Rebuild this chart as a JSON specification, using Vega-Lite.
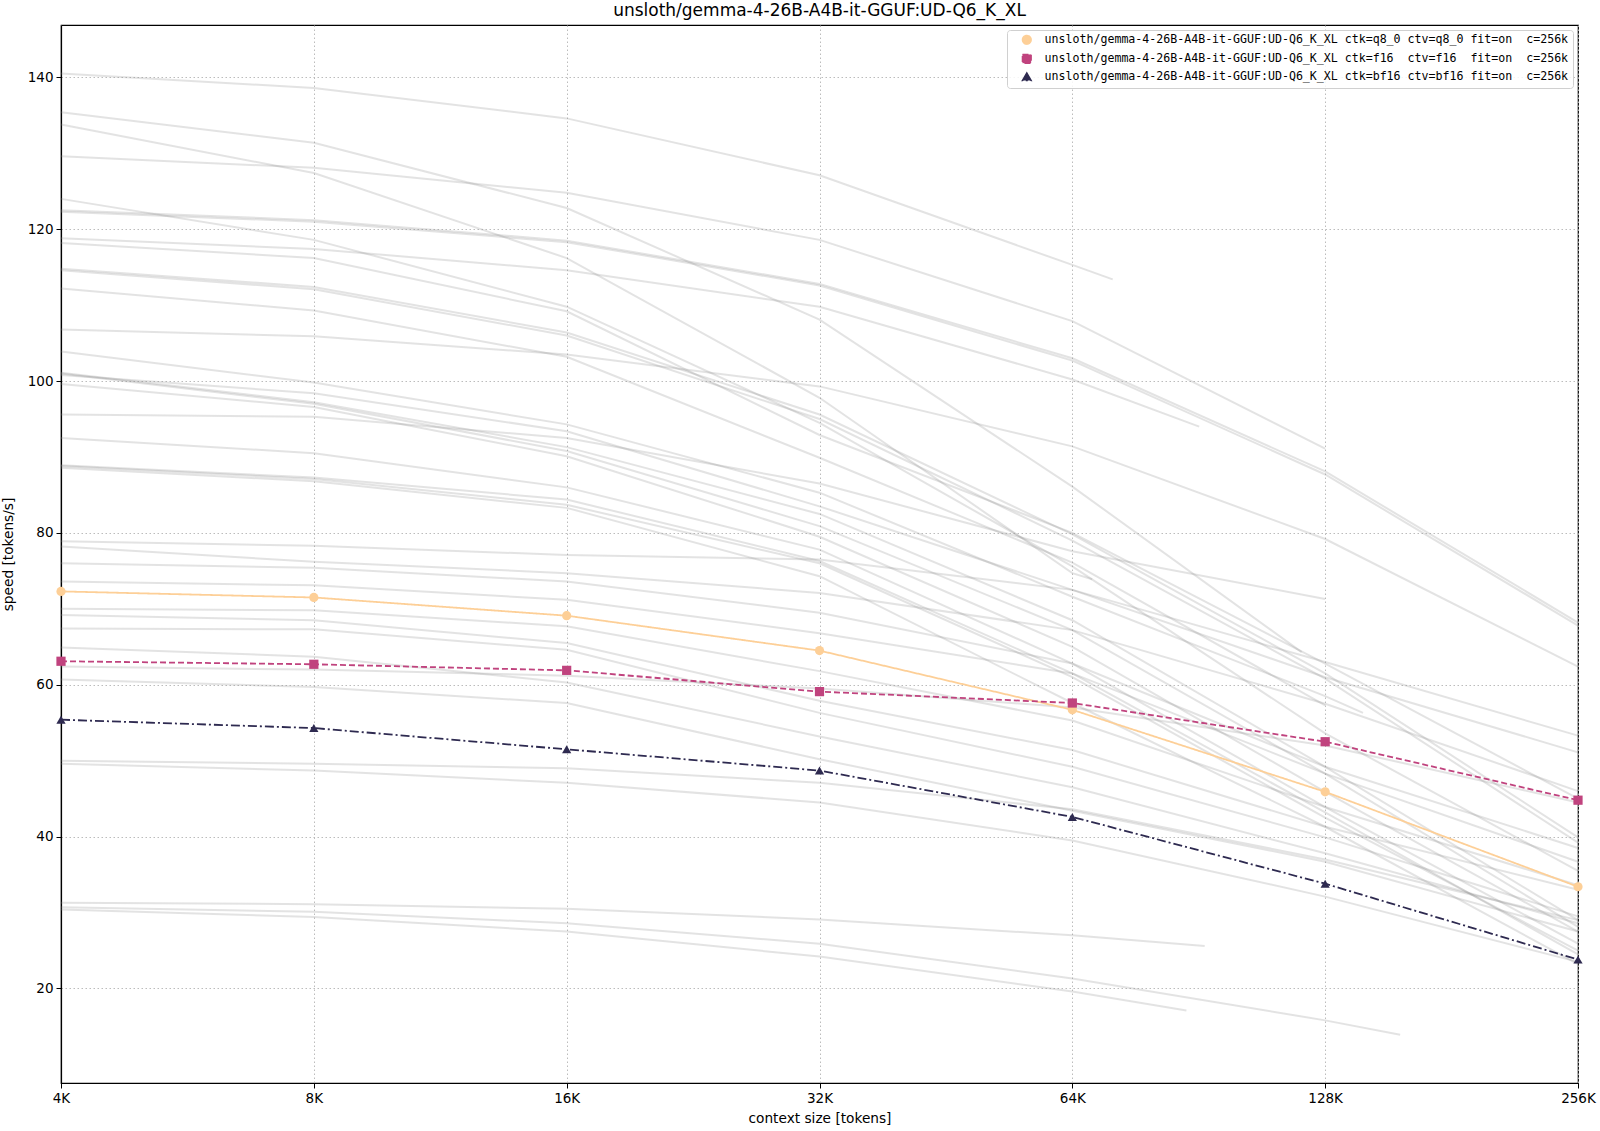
{
  "$schema": "https://vega.github.io/schema/vega-lite/v6.json",
  "width": 1517,
  "height": 1058,
  "autosize": {"type": "none"},
  "padding": {"left": 61, "top": 25, "right": 22, "bottom": 48},
  "title": {"text": "unsloth/gemma-4-26B-A4B-it-GGUF:UD-Q6_K_XL", "fontSize": 17, "fontWeight": "normal", "font": "DejaVu Sans", "color": "#000000", "anchor": "middle", "offset": 5},
  "datasets": {
    "bg": [
      {"r":1,"x":4096,"y":140.5},{"r":1,"x":8192,"y":138.6},{"r":1,"x":16384,"y":134.6},{"r":1,"x":32768,"y":127.1},{"r":1,"x":65536,"y":115.3},{"r":1,"x":73200,"y":113.4},
      {"r":2,"x":4096,"y":135.4},{"r":2,"x":8192,"y":131.4},{"r":2,"x":16384,"y":122.8},{"r":2,"x":32768,"y":108.1},{"r":2,"x":65536,"y":86.1},{"r":2,"x":122880,"y":64.3},
      {"r":3,"x":4096,"y":133.8},{"r":3,"x":8192,"y":127.4},{"r":3,"x":16384,"y":116.2},{"r":3,"x":32768,"y":97.8},{"r":3,"x":65536,"y":74.7},{"r":3,"x":69200,"y":73.9},
      {"r":4,"x":4096,"y":129.6},{"r":4,"x":8192,"y":128.1},{"r":4,"x":16384,"y":124.8},{"r":4,"x":32768,"y":118.6},{"r":4,"x":65536,"y":107.9},{"r":4,"x":131072,"y":91.1},
      {"r":5,"x":4096,"y":124.0},{"r":5,"x":8192,"y":118.6},{"r":5,"x":16384,"y":109.8},{"r":5,"x":32768,"y":94.5},{"r":5,"x":65536,"y":75.6},{"r":5,"x":131072,"y":53.6},{"r":5,"x":262144,"y":35.5},
      {"r":6,"x":4096,"y":122.5},{"r":6,"x":8192,"y":121.2},{"r":6,"x":16384,"y":118.5},{"r":6,"x":32768,"y":112.8},{"r":6,"x":65536,"y":103.0},{"r":6,"x":131072,"y":88.1},{"r":6,"x":262144,"y":68.2},
      {"r":7,"x":4096,"y":122.3},{"r":7,"x":8192,"y":121.0},{"r":7,"x":16384,"y":118.3},{"r":7,"x":32768,"y":112.6},{"r":7,"x":65536,"y":102.7},{"r":7,"x":131072,"y":87.7},{"r":7,"x":262144,"y":67.8},
      {"r":8,"x":4096,"y":118.8},{"r":8,"x":8192,"y":117.4},{"r":8,"x":16384,"y":114.6},{"r":8,"x":32768,"y":109.8},{"r":8,"x":65536,"y":100.2},{"r":8,"x":92800,"y":94.0},
      {"r":9,"x":4096,"y":118.2},{"r":9,"x":8192,"y":116.2},{"r":9,"x":16384,"y":109.2},{"r":9,"x":32768,"y":92.9},{"r":9,"x":65536,"y":80.0},{"r":9,"x":131072,"y":62.8},{"r":9,"x":262144,"y":45.0},
      {"r":10,"x":4096,"y":114.8},{"r":10,"x":8192,"y":112.4},{"r":10,"x":16384,"y":106.4},{"r":10,"x":32768,"y":95.6},{"r":10,"x":65536,"y":79.8},{"r":10,"x":131072,"y":61.5},{"r":10,"x":262144,"y":39.9},
      {"r":11,"x":4096,"y":114.6},{"r":11,"x":8192,"y":112.1},{"r":11,"x":16384,"y":106.0},{"r":11,"x":32768,"y":95.0},{"r":11,"x":65536,"y":79.0},{"r":11,"x":131072,"y":60.8},{"r":11,"x":262144,"y":39.2},
      {"r":12,"x":4096,"y":112.2},{"r":12,"x":8192,"y":109.3},{"r":12,"x":16384,"y":103.2},{"r":12,"x":32768,"y":89.9},{"r":12,"x":65536,"y":76.1},{"r":12,"x":131072,"y":57.3},
      {"r":13,"x":4096,"y":106.8},{"r":13,"x":8192,"y":105.9},{"r":13,"x":16384,"y":103.5},{"r":13,"x":32768,"y":99.3},{"r":13,"x":65536,"y":91.4},{"r":13,"x":131072,"y":79.2},{"r":13,"x":262144,"y":62.4},
      {"r":14,"x":4096,"y":103.9},{"r":14,"x":8192,"y":99.8},{"r":14,"x":16384,"y":94.3},{"r":14,"x":32768,"y":85.3},{"r":14,"x":65536,"y":71.6},{"r":14,"x":131072,"y":58.5},{"r":14,"x":145400,"y":56.3},
      {"r":15,"x":4096,"y":101.1},{"r":15,"x":8192,"y":97.2},{"r":15,"x":16384,"y":91.3},{"r":15,"x":32768,"y":82.5},{"r":15,"x":65536,"y":68.5},{"r":15,"x":131072,"y":49.2},{"r":15,"x":262144,"y":29.0},
      {"r":16,"x":4096,"y":101.0},{"r":16,"x":8192,"y":97.0},{"r":16,"x":16384,"y":90.8},{"r":16,"x":32768,"y":80.9},{"r":16,"x":65536,"y":67.2},{"r":16,"x":131072,"y":48.3},{"r":16,"x":262144,"y":28.1},
      {"r":17,"x":4096,"y":100.8},{"r":17,"x":8192,"y":98.4},{"r":17,"x":16384,"y":93.4},{"r":17,"x":32768,"y":83.5},{"r":17,"x":65536,"y":72.5},{"r":17,"x":131072,"y":61.0},{"r":17,"x":262144,"y":51.1},
      {"r":18,"x":4096,"y":99.6},{"r":18,"x":8192,"y":96.6},{"r":18,"x":16384,"y":90.1},{"r":18,"x":32768,"y":79.5},{"r":18,"x":65536,"y":65.0},{"r":18,"x":131072,"y":45.9},{"r":18,"x":262144,"y":27.5},
      {"r":19,"x":4096,"y":95.6},{"r":19,"x":8192,"y":95.3},{"r":19,"x":16384,"y":92.5},{"r":19,"x":32768,"y":86.5},{"r":19,"x":65536,"y":77.6},{"r":19,"x":131072,"y":71.3},
      {"r":20,"x":4096,"y":92.5},{"r":20,"x":8192,"y":90.5},{"r":20,"x":16384,"y":86.0},{"r":20,"x":32768,"y":77.8},{"r":20,"x":65536,"y":62.8},{"r":20,"x":131072,"y":43.9},{"r":20,"x":262144,"y":25.9},
      {"r":21,"x":4096,"y":88.9},{"r":21,"x":8192,"y":87.3},{"r":21,"x":16384,"y":84.4},{"r":21,"x":32768,"y":76.3},{"r":21,"x":65536,"y":61.5},{"r":21,"x":131072,"y":43.2},{"r":21,"x":262144,"y":24.5},
      {"r":22,"x":4096,"y":88.8},{"r":22,"x":8192,"y":87.1},{"r":22,"x":16384,"y":83.7},{"r":22,"x":32768,"y":76.0},{"r":22,"x":65536,"y":61.0},{"r":22,"x":131072,"y":42.5},{"r":22,"x":262144,"y":25.0},
      {"r":23,"x":4096,"y":88.6},{"r":23,"x":8192,"y":86.8},{"r":23,"x":16384,"y":83.3},{"r":23,"x":32768,"y":74.3},{"r":23,"x":65536,"y":57.6},{"r":23,"x":131072,"y":41.3},{"r":23,"x":262144,"y":23.2},
      {"r":24,"x":4096,"y":78.9},{"r":24,"x":8192,"y":78.3},{"r":24,"x":16384,"y":77.1},{"r":24,"x":32768,"y":76.5},{"r":24,"x":65536,"y":72.5},{"r":24,"x":131072,"y":63.0},{"r":24,"x":262144,"y":53.3},
      {"r":25,"x":4096,"y":78.2},{"r":25,"x":8192,"y":76.2},{"r":25,"x":16384,"y":74.7},{"r":25,"x":32768,"y":72.1},{"r":25,"x":65536,"y":67.2},{"r":25,"x":131072,"y":57.5},{"r":25,"x":262144,"y":46.0},
      {"r":26,"x":4096,"y":76.0},{"r":26,"x":8192,"y":75.4},{"r":26,"x":16384,"y":73.6},{"r":26,"x":32768,"y":69.5},{"r":26,"x":65536,"y":62.8},{"r":26,"x":131072,"y":49.2},{"r":26,"x":262144,"y":38.5},
      {"r":27,"x":4096,"y":73.6},{"r":27,"x":8192,"y":73.1},{"r":27,"x":16384,"y":71.2},{"r":27,"x":32768,"y":66.8},{"r":27,"x":65536,"y":61.5},{"r":27,"x":131072,"y":48.3},{"r":27,"x":262144,"y":36.7},
      {"r":28,"x":4096,"y":70.0},{"r":28,"x":8192,"y":69.8},{"r":28,"x":16384,"y":67.7},{"r":28,"x":32768,"y":61.8},{"r":28,"x":65536,"y":55.3},{"r":28,"x":131072,"y":43.9},{"r":28,"x":262144,"y":33.6},
      {"r":29,"x":4096,"y":69.2},{"r":29,"x":8192,"y":68.5},{"r":29,"x":16384,"y":65.5},{"r":29,"x":32768,"y":57.9},{"r":29,"x":65536,"y":51.4},{"r":29,"x":131072,"y":41.3},{"r":29,"x":262144,"y":33.0},
      {"r":30,"x":4096,"y":67.4},{"r":30,"x":8192,"y":67.3},{"r":30,"x":16384,"y":64.6},{"r":30,"x":32768,"y":56.3},{"r":30,"x":65536,"y":49.2},{"r":30,"x":131072,"y":39.9},{"r":30,"x":262144,"y":29.5},
      {"r":31,"x":4096,"y":64.9},{"r":31,"x":8192,"y":63.7},{"r":31,"x":16384,"y":60.3},{"r":31,"x":32768,"y":53.2},{"r":31,"x":65536,"y":46.5},{"r":31,"x":131072,"y":37.8},{"r":31,"x":262144,"y":28.6},
      {"r":32,"x":4096,"y":62.4},{"r":32,"x":8192,"y":62.0},{"r":32,"x":16384,"y":61.2},{"r":32,"x":32768,"y":59.5},{"r":32,"x":65536,"y":57.0},{"r":32,"x":131072,"y":52.0},{"r":32,"x":262144,"y":44.5},
      {"r":33,"x":4096,"y":60.7},{"r":33,"x":8192,"y":59.7},{"r":33,"x":16384,"y":57.6},{"r":33,"x":32768,"y":50.2},{"r":33,"x":65536,"y":43.4},{"r":33,"x":131072,"y":36.7},{"r":33,"x":262144,"y":27.5},
      {"r":34,"x":4096,"y":50.0},{"r":34,"x":8192,"y":49.6},{"r":34,"x":16384,"y":49.0},{"r":34,"x":32768,"y":47.1},{"r":34,"x":65536,"y":43.6},{"r":34,"x":131072,"y":37.0},{"r":34,"x":262144,"y":29.0},
      {"r":35,"x":4096,"y":49.6},{"r":35,"x":8192,"y":48.7},{"r":35,"x":16384,"y":47.1},{"r":35,"x":32768,"y":44.5},{"r":35,"x":65536,"y":39.5},{"r":35,"x":131072,"y":32.1},{"r":35,"x":262144,"y":23.5},
      {"r":36,"x":4096,"y":31.3},{"r":36,"x":8192,"y":31.1},{"r":36,"x":16384,"y":30.5},{"r":36,"x":32768,"y":29.1},{"r":36,"x":65536,"y":27.0},{"r":36,"x":94200,"y":25.6},
      {"r":37,"x":4096,"y":30.7},{"r":37,"x":8192,"y":30.1},{"r":37,"x":16384,"y":28.6},{"r":37,"x":32768,"y":25.9},{"r":37,"x":65536,"y":21.3},{"r":37,"x":131072,"y":15.8},{"r":37,"x":161000,"y":13.9},
      {"r":38,"x":4096,"y":30.4},{"r":38,"x":8192,"y":29.4},{"r":38,"x":16384,"y":27.5},{"r":38,"x":32768,"y":24.2},{"r":38,"x":65536,"y":19.6},{"r":38,"x":89600,"y":17.1}
    ],
    "hl": [
      {"s":"unsloth/gemma-4-26B-A4B-it-GGUF:UD-Q6_K_XL ctk=q8_0 ctv=q8_0 fit=on\u00a0 c=256k","x":4096,"y":72.3},
      {"s":"unsloth/gemma-4-26B-A4B-it-GGUF:UD-Q6_K_XL ctk=q8_0 ctv=q8_0 fit=on\u00a0 c=256k","x":8192,"y":71.5},
      {"s":"unsloth/gemma-4-26B-A4B-it-GGUF:UD-Q6_K_XL ctk=q8_0 ctv=q8_0 fit=on\u00a0 c=256k","x":16384,"y":69.1},
      {"s":"unsloth/gemma-4-26B-A4B-it-GGUF:UD-Q6_K_XL ctk=q8_0 ctv=q8_0 fit=on\u00a0 c=256k","x":32768,"y":64.5},
      {"s":"unsloth/gemma-4-26B-A4B-it-GGUF:UD-Q6_K_XL ctk=q8_0 ctv=q8_0 fit=on\u00a0 c=256k","x":65536,"y":56.7},
      {"s":"unsloth/gemma-4-26B-A4B-it-GGUF:UD-Q6_K_XL ctk=q8_0 ctv=q8_0 fit=on\u00a0 c=256k","x":131072,"y":45.9},
      {"s":"unsloth/gemma-4-26B-A4B-it-GGUF:UD-Q6_K_XL ctk=q8_0 ctv=q8_0 fit=on\u00a0 c=256k","x":262144,"y":33.4},
      {"s":"unsloth/gemma-4-26B-A4B-it-GGUF:UD-Q6_K_XL ctk=f16\u00a0 ctv=f16\u00a0 fit=on\u00a0 c=256k","x":4096,"y":63.1},
      {"s":"unsloth/gemma-4-26B-A4B-it-GGUF:UD-Q6_K_XL ctk=f16\u00a0 ctv=f16\u00a0 fit=on\u00a0 c=256k","x":8192,"y":62.7},
      {"s":"unsloth/gemma-4-26B-A4B-it-GGUF:UD-Q6_K_XL ctk=f16\u00a0 ctv=f16\u00a0 fit=on\u00a0 c=256k","x":16384,"y":61.9},
      {"s":"unsloth/gemma-4-26B-A4B-it-GGUF:UD-Q6_K_XL ctk=f16\u00a0 ctv=f16\u00a0 fit=on\u00a0 c=256k","x":32768,"y":59.1},
      {"s":"unsloth/gemma-4-26B-A4B-it-GGUF:UD-Q6_K_XL ctk=f16\u00a0 ctv=f16\u00a0 fit=on\u00a0 c=256k","x":65536,"y":57.6},
      {"s":"unsloth/gemma-4-26B-A4B-it-GGUF:UD-Q6_K_XL ctk=f16\u00a0 ctv=f16\u00a0 fit=on\u00a0 c=256k","x":131072,"y":52.5},
      {"s":"unsloth/gemma-4-26B-A4B-it-GGUF:UD-Q6_K_XL ctk=f16\u00a0 ctv=f16\u00a0 fit=on\u00a0 c=256k","x":262144,"y":44.8},
      {"s":"unsloth/gemma-4-26B-A4B-it-GGUF:UD-Q6_K_XL ctk=bf16 ctv=bf16 fit=on\u00a0 c=256k","x":4096,"y":55.4},
      {"s":"unsloth/gemma-4-26B-A4B-it-GGUF:UD-Q6_K_XL ctk=bf16 ctv=bf16 fit=on\u00a0 c=256k","x":8192,"y":54.3},
      {"s":"unsloth/gemma-4-26B-A4B-it-GGUF:UD-Q6_K_XL ctk=bf16 ctv=bf16 fit=on\u00a0 c=256k","x":16384,"y":51.5},
      {"s":"unsloth/gemma-4-26B-A4B-it-GGUF:UD-Q6_K_XL ctk=bf16 ctv=bf16 fit=on\u00a0 c=256k","x":32768,"y":48.7},
      {"s":"unsloth/gemma-4-26B-A4B-it-GGUF:UD-Q6_K_XL ctk=bf16 ctv=bf16 fit=on\u00a0 c=256k","x":65536,"y":42.6},
      {"s":"unsloth/gemma-4-26B-A4B-it-GGUF:UD-Q6_K_XL ctk=bf16 ctv=bf16 fit=on\u00a0 c=256k","x":131072,"y":33.8},
      {"s":"unsloth/gemma-4-26B-A4B-it-GGUF:UD-Q6_K_XL ctk=bf16 ctv=bf16 fit=on\u00a0 c=256k","x":262144,"y":23.8}
    ]
  },
  "encoding": {
    "x": {
      "field": "x", "type": "quantitative",
      "scale": {"type": "log", "base": 2, "domain": [4096, 262144], "nice": false},
      "axis": {
        "title": "context size [tokens]",
        "values": [4096, 8192, 16384, 32768, 65536, 131072, 262144],
        "labelExpr": "(datum.value / 1024) + 'K'",
        "labelFlush": false,
        "titlePadding": 7
      }
    },
    "y": {
      "field": "y", "type": "quantitative",
      "scale": {"domain": [7.55, 146.9], "nice": false, "zero": false},
      "axis": {"title": "speed [tokens/s]", "values": [20, 40, 60, 80, 100, 120, 140], "titlePadding": 12}
    }
  },
  "layer": [
    {
      "data": {"name": "bg"},
      "mark": {"type": "line", "stroke": "#8c8c8c", "strokeOpacity": 0.24, "strokeWidth": 2},
      "encoding": {"detail": {"field": "r", "type": "nominal"}}
    },
    {
      "data": {"name": "hl"},
      "mark": {"type": "line", "strokeWidth": 1.8},
      "encoding": {
        "color": {"field": "s", "type": "nominal"},
        "strokeDash": {
          "field": "s", "type": "nominal", "legend": null,
          "scale": {
            "domain": [
              "unsloth/gemma-4-26B-A4B-it-GGUF:UD-Q6_K_XL ctk=q8_0 ctv=q8_0 fit=on\u00a0 c=256k",
              "unsloth/gemma-4-26B-A4B-it-GGUF:UD-Q6_K_XL ctk=f16\u00a0 ctv=f16\u00a0 fit=on\u00a0 c=256k",
              "unsloth/gemma-4-26B-A4B-it-GGUF:UD-Q6_K_XL ctk=bf16 ctv=bf16 fit=on\u00a0 c=256k"
            ],
            "range": [[1, 0], [6, 3], [9, 3, 2, 3]]
          }
        }
      }
    },
    {
      "data": {"name": "hl"},
      "mark": {"type": "point", "filled": true, "opacity": 1, "size": 85},
      "encoding": {
        "color": {
          "field": "s", "type": "nominal",
          "scale": {
            "domain": [
              "unsloth/gemma-4-26B-A4B-it-GGUF:UD-Q6_K_XL ctk=q8_0 ctv=q8_0 fit=on\u00a0 c=256k",
              "unsloth/gemma-4-26B-A4B-it-GGUF:UD-Q6_K_XL ctk=f16\u00a0 ctv=f16\u00a0 fit=on\u00a0 c=256k",
              "unsloth/gemma-4-26B-A4B-it-GGUF:UD-Q6_K_XL ctk=bf16 ctv=bf16 fit=on\u00a0 c=256k"
            ],
            "range": ["#fdcf97", "#c0437e", "#2e2a50"]
          },
          "legend": {
            "title": null, "orient": "none", "legendX": 946, "legendY": 5,
            "labelFont": "DejaVu Sans Mono", "labelFontSize": 11.6, "labelColor": "#000000",
            "symbolSize": 75, "symbolOffset": 10, "labelOffset": 12, "rowPadding": 3, "padding": 4,
            "fillColor": "rgba(255,255,255,0.85)", "strokeColor": "#d0d0d0", "cornerRadius": 3,
            "labelLimit": 800
          }
        },
        "shape": {
          "field": "s", "type": "nominal",
          "scale": {
            "domain": [
              "unsloth/gemma-4-26B-A4B-it-GGUF:UD-Q6_K_XL ctk=q8_0 ctv=q8_0 fit=on\u00a0 c=256k",
              "unsloth/gemma-4-26B-A4B-it-GGUF:UD-Q6_K_XL ctk=f16\u00a0 ctv=f16\u00a0 fit=on\u00a0 c=256k",
              "unsloth/gemma-4-26B-A4B-it-GGUF:UD-Q6_K_XL ctk=bf16 ctv=bf16 fit=on\u00a0 c=256k"
            ],
            "range": ["circle", "square", "triangle-up"]
          }
        }
      }
    }
  ],
  "config": {
    "font": "DejaVu Sans",
    "view": {"stroke": "#000000", "strokeWidth": 1.2},
    "axis": {
      "domainColor": "#000000", "domainWidth": 1.2,
      "tickColor": "#000000", "tickSize": 5, "tickWidth": 1,
      "labelFontSize": 13.5, "labelColor": "#000000", "labelPadding": 3,
      "titleFontSize": 13.7, "titleFontWeight": "normal", "titleColor": "#000000",
      "grid": true, "gridColor": "#b4b4b4", "gridDash": [1.5, 2.5], "gridWidth": 0.9
    }
  }
}
